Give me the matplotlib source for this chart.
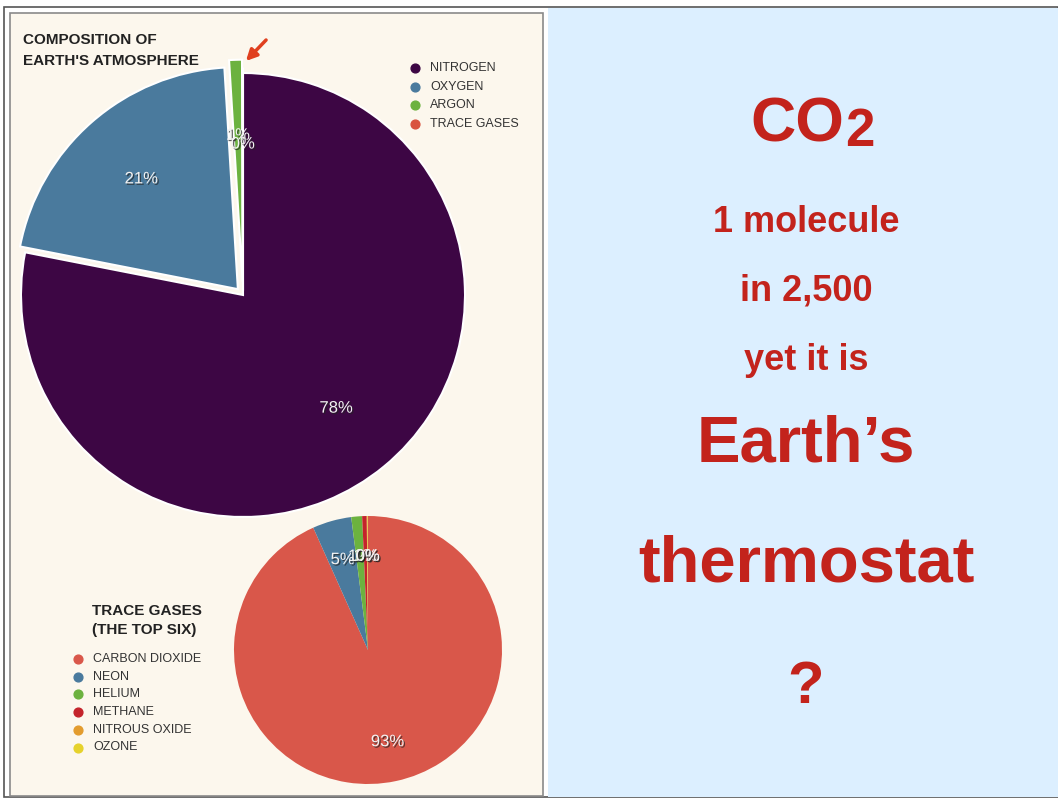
import matplotlib
matplotlib.use("Agg")
import matplotlib.pyplot as plt
import matplotlib.patheffects as pe
from matplotlib.patches import Rectangle

plt.rcParams['font.family'] = ['Liberation Sans', 'DejaVu Sans']

# atmosphere composition (percent)
gases = ['NITROGEN', 'OXYGEN', 'ARGON', 'TRACE GASES']
gas_pct = [78.08, 20.95, 0.93, 0.04]
gas_colors = ['#3d0644', '#4a7a9d', '#6cb23f', '#d9543f']

# the six largest trace gases (percent of trace gases)
trace = ['CARBON DIOXIDE', 'NEON', 'HELIUM', 'METHANE', 'NITROUS OXIDE', 'OZONE']
trace_pct = [93.3, 4.7, 1.3, 0.55, 0.1, 0.05]
trace_colors = ['#d9574a', '#4a7a9d', '#6cb23f', '#c4242b', '#e39c2e', '#e6d22c']

msg_lines = ['1 molecule', 'in 2,500', 'yet it is']
big_lines = ["Earth\u2019s", 'thermostat', '?']

W, H = 1058, 800
RED = '#c3231c'

fig = plt.figure(figsize=(W / 100, H / 100), dpi=100, facecolor='white')
bg = fig.add_axes([0, 0, 1, 1])
bg.set_xlim(0, W)
bg.set_ylim(H, 0)
bg.axis('off')

# frames
bg.add_patch(Rectangle((4, 7), W - 4, 790, fc='white', ec='#555555', lw=1.2))
bg.add_patch(Rectangle((10, 13), 533, 783, fc='#fcf7ed', ec='#8a8a8a', lw=1.2))
bg.add_patch(Rectangle((548, 8), W - 548, 789, fc='#dcefff', ec='none'))


def pie_axes(cx, cy, r, lim=1.25):
    # square axes centred on (cx, cy) pixels, pie radius r pixels
    ax = fig.add_axes([(cx - lim * r) / W, (H - cy - lim * r) / H,
                       2 * lim * r / W, 2 * lim * r / H])
    ax.set_facecolor('none')
    return ax, lim


shadow = [pe.withSimplePatchShadow(offset=(1, -1), shadow_rgbFace='#222222', alpha=0.7)]

# big pie
ax1, lim = pie_axes(243, 295, 222)
w1, t1, p1 = ax1.pie(gas_pct, colors=gas_colors, startangle=90, counterclock=False,
                     explode=[0, 0.035, 0.06, 0.02], autopct='%1.0f%%', pctdistance=0.66,
                     wedgeprops=dict(edgecolor='white', linewidth=1.5),
                     textprops=dict(color='#f2f2f2', fontsize=12))
for t in p1:
    t.set_path_effects(shadow)
ax1.set_xlim(-lim, lim)
ax1.set_ylim(-lim, lim)
ax1.axis('off')

# small pie
ax2, lim = pie_axes(368, 650, 134)
w2, t2, p2 = ax2.pie(trace_pct, colors=trace_colors, startangle=90, counterclock=False,
                     autopct='%1.0f%%', pctdistance=0.7,
                     wedgeprops=dict(linewidth=0),
                     textprops=dict(color='#f2f2f2', fontsize=12))
for t in p2:
    t.set_path_effects(shadow)
ax2.set_xlim(-lim, lim)
ax2.set_ylim(-lim, lim)
ax2.axis('off')

# titles
bg.text(23, 44, 'COMPOSITION OF', fontsize=11, fontweight='bold', color='#222222')
bg.text(23, 65, "EARTH'S ATMOSPHERE", fontsize=11, fontweight='bold', color='#222222')
bg.text(92, 615, 'TRACE GASES', fontsize=11, fontweight='bold', color='#222222')
bg.text(92, 634, '(THE TOP SIX)', fontsize=11, fontweight='bold', color='#222222')

# legends
for i, (name, c) in enumerate(zip(gases, gas_colors)):
    y = 68 + i * 18.7
    bg.scatter(415, y, s=40, color=c, zorder=3)
    bg.text(430, y, name, fontsize=9, va='center', color='#333333')
for i, (name, c) in enumerate(zip(trace, trace_colors)):
    y = 659 + i * 17.7
    bg.scatter(78, y, s=40, color=c, zorder=3)
    bg.text(93, y, name, fontsize=9, va='center', color='#333333')

# arrow to the argon / trace gases slice
bg.annotate('', xy=(244, 63), xytext=(268, 38),
            arrowprops=dict(arrowstyle='-|>', color='#e0401f', lw=2.5, mutation_scale=16))

# right panel text
bg.text(844, 141, 'CO', fontsize=45, fontweight='bold', color=RED, ha='right', va='baseline')
bg.text(845, 146, '2', fontsize=38, fontweight='bold', color=RED, ha='left', va='baseline')
for s, y in zip(msg_lines, [232, 300, 370]):
    bg.text(806, y, s, fontsize=26, fontweight='bold', color=RED, ha='center', va='baseline')
for s, y, fs in zip(big_lines, [461, 582, 703], [47, 47, 43]):
    bg.text(806, y, s, fontsize=fs, fontweight='bold', color=RED, ha='center', va='baseline')

fig.savefig('out.png', dpi=100, facecolor='white')
